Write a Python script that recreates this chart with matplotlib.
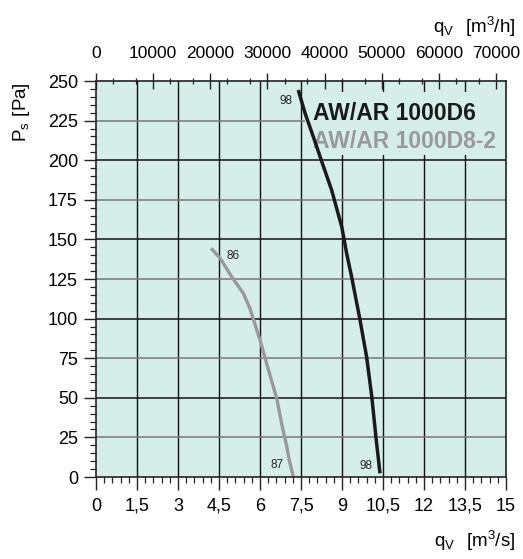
import numpy as np
import matplotlib
matplotlib.use('Agg')
import matplotlib.pyplot as plt
from matplotlib.ticker import FixedLocator, MultipleLocator

plt.rcParams['font.family'] = ['Liberation Sans', 'DejaVu Sans']
plt.rcParams['mathtext.fontset'] = 'custom'
plt.rcParams['mathtext.rm'] = 'Liberation Sans'

# curve data: flow in m3/s, pressure in Pa
d6_q = [7.40, 7.65, 7.95, 8.26, 8.62, 8.99, 9.17, 9.35, 9.66, 9.90, 10.09, 10.24, 10.39]
d6_p = [244.3, 229.6, 214.8, 199.1, 181.2, 158.0, 141.2, 126.5, 99.1, 75.9, 50.7, 25.4, 2.3]
d82_q = [4.21, 4.54, 4.96, 5.39, 5.63, 6.00, 6.31, 6.61, 6.79, 6.98, 7.07, 7.22]
d82_p = [144.4, 138.1, 126.5, 116.0, 106.5, 86.5, 67.6, 49.7, 33.9, 19.1, 10.7, 0.0]

x_ticks = [0, 1.5, 3, 4.5, 6, 7.5, 9, 10.5, 12, 13.5, 15]
x_labels = ['0', '1,5', '3', '4,5', '6', '7,5', '9', '10,5', '12', '13,5', '15']
y_ticks = [0, 25, 50, 75, 100, 125, 150, 175, 200, 225, 250]
top_ticks = [0, 10000, 20000, 30000, 40000, 50000, 60000, 70000]
top_max = 71750

# point labels (x, y, text)
pt_labels = [(6.95, 237.5, '98'), (5.03, 139.5, '86'), (6.64, 7.6, '87'), (9.88, 7.0, '98')]

bg = '#d6eeea'
gray = '#999999'

fig = plt.figure(figsize=(5.23, 5.59), dpi=100)
W, H = 523, 559
ax = fig.add_axes([96 / W, (H - 477) / H, 410 / W, 396 / H])
ax.set_facecolor(bg)
ax.set_xlim(0, 15)
ax.set_ylim(0, 250)

ax.set_xticks(x_ticks)
ax.set_xticklabels(x_labels)
ax.xaxis.set_minor_locator(MultipleLocator(0.3))
ax.set_yticks(y_ticks)
ax.yaxis.set_minor_locator(MultipleLocator(5))
ax.tick_params(axis='both', which='major', labelsize=13, length=9, width=1, direction='out', color='#222222')
ax.tick_params(axis='both', which='minor', length=4.5, width=0.9, direction='out', color='#222222')
ax.tick_params(axis='y', which='major', pad=4)
ax.tick_params(axis='x', which='major', pad=6)

# grid
for x in x_ticks[1:-1]:
    ax.axvline(x, color='#111111', lw=1.0, zorder=1)
for i, y in enumerate(y_ticks[1:-1]):
    c = '#777777' if i % 2 == 0 else '#111111'
    ax.axhline(y, color=c, lw=1.1, zorder=1)
for i, t in enumerate(ax.yaxis.get_major_ticks()):
    if y_ticks[i] % 50 == 25:
        t.tick1line.set_color('#777777')

for s in ax.spines.values():
    s.set_linewidth(1.2)
    s.set_color('#222222')
    s.set_zorder(5)

# top axis in m3/h
ax2 = ax.twiny()
ax2.set_xlim(0, top_max)
ax2.set_xticks(top_ticks)
ax2.set_xticklabels([str(t) for t in top_ticks])
minor_top = [t + 3000 for t in top_ticks] + [t + 7000 for t in top_ticks[:-1]]
ax2.xaxis.set_minor_locator(FixedLocator(minor_top))
ax2.tick_params(axis='x', which='major', labelsize=12.5, length=11, width=1, direction='inout', pad=9, color='#222222')
ax2.tick_params(axis='x', which='minor', length=5, width=0.9, direction='inout', color='#222222')
for s in ax2.spines.values():
    s.set_visible(False)

# legend box covering the grid
ax.fill_between([7.65, 15], 203, 243, color=bg, zorder=2, lw=0)
ax.text(7.95, 229.5, 'AW/AR 1000D6', fontsize=16.5, fontweight='bold', color='#1a1a1a', zorder=3,
        va='center', ha='left')
ax.text(7.95, 211.5, 'AW/AR 1000D8-2', fontsize=16.5, fontweight='bold', color=gray, zorder=3,
        va='center', ha='left')

ax.plot(d82_q, d82_p, color=gray, lw=2.4, zorder=4, solid_capstyle='butt')
ax.plot(d6_q, d6_p, color='#1a1a1a', lw=2.5, zorder=4, solid_capstyle='butt')

for x, y, t in pt_labels:
    ax.text(x, y, t, fontsize=8.5, color='#222222', ha='center', va='center', zorder=4)

fig.text(515 / W, 1 - 27 / H, r'$\mathregular{q_V\ \ [m^3/h]}$', fontsize=13.5, ha='right', va='center')
fig.text(515 / W, 1 - 541 / H, r'$\mathregular{q_V\ \ [m^3/s]}$', fontsize=13.5, ha='right', va='center')
fig.text(22 / W, 1 - 112 / H, r'$\mathregular{P_s\ [Pa]}$', fontsize=13.5, ha='center', va='center', rotation=90)

fig.savefig('out.png', dpi=100, facecolor='white')
